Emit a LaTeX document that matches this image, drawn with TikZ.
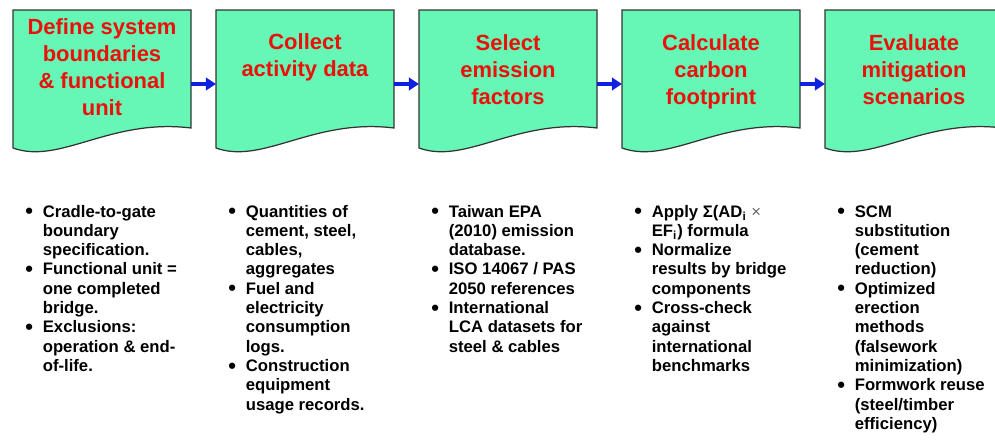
\documentclass[tikz,border=0pt]{standalone}
\usepackage{fontspec}
\setmainfont{Liberation Sans}
\usepackage{xcolor}
\usetikzlibrary{arrows.meta}
\definecolor{boxgreen}{RGB}{102,247,182}
\definecolor{titlered}{RGB}{235,16,10}
\definecolor{flowblue}{RGB}{16,32,224}
\newcommand\bul{\raisebox{-0.8pt}{\fontsize{12.5}{0}\selectfont\textbullet}}

\begin{document}
\begin{tikzpicture}[x=0.02cm,y=-0.02cm,
  docbox/.style={draw=black!80,fill=boxgreen,line width=0.7pt},
  head/.style={anchor=base,inner sep=0pt,text=titlered,font=\bfseries\fontsize{12.5}{15.4}\selectfont},
  notes/.style={anchor=base west,inner sep=0pt,font=\bfseries\fontsize{9.5}{11}\selectfont},
  flow/.style={draw=flowblue,line width=2.5pt,-{Triangle[length=5.7pt,width=7pt]}}]
\useasboundingbox (0,0) rectangle (995,443);
% the five document boxes
\foreach \i in {1,...,5}{
  \pgfmathsetmacro\xl{13+203*(\i-1)}
  \draw[docbox] (\xl,10) -- (\xl+178,10) -- (\xl+178,128)
    .. controls (\xl+97,118) and (\xl+47,165) .. (\xl,148) -- cycle;
  \coordinate (box\i-w) at (\xl,84);
  \coordinate (box\i-e) at (\xl+178,84);
}
\foreach \i in {1,...,4}{
  \pgfmathtruncatemacro\j{\i+1}
  \draw[flow] (box\i-e) -- (box\j-w);
}
% titles
\node[head] (h1) at (102,34) {\begin{tabular}[t]{@{}c@{}}Define system\\boundaries\\\& functional\\unit\end{tabular}};
\node[head] (h2) at (305,49) {\begin{tabular}[t]{@{}c@{}}Collect\\activity data\end{tabular}};
\node[head] (h3) at (508,50) {\begin{tabular}[t]{@{}c@{}}Select\\emission\\factors\end{tabular}};
\node[head] (h4) at (711,50) {\begin{tabular}[t]{@{}c@{}}Calculate\\carbon\\footprint\end{tabular}};
\node[head] (h5) at (914,50) {\begin{tabular}[t]{@{}c@{}}Evaluate\\mitigation\\scenarios\end{tabular}};
% bullet lists
\node[notes] (n1) at (25,217) {\begin{tabular}[t]{@{}p{0.35cm}@{}l@{}}
\bul & Cradle-to-gate\\ & boundary\\ & specification.\\
\bul & Functional unit =\\ & one completed\\ & bridge.\\
\bul & Exclusions:\\ & operation \& end-\\ & of-life.\end{tabular}};
\node[notes] (n2) at (228,217) {\begin{tabular}[t]{@{}p{0.35cm}@{}l@{}}
\bul & Quantities of\\ & cement, steel,\\ & cables,\\ & aggregates\\
\bul & Fuel and\\ & electricity\\ & consumption\\ & logs.\\
\bul & Construction\\ & equipment\\ & usage records.\end{tabular}};
\node[notes] (n3) at (431,217) {\begin{tabular}[t]{@{}p{0.35cm}@{}l@{}}
\bul & Taiwan EPA\\ & (2010) emission\\ & database.\\
\bul & ISO 14067 / PAS\\ & 2050 references\\
\bul & International\\ & LCA datasets for\\ & steel \& cables\end{tabular}};
\node[notes] (n4) at (634,217) {\begin{tabular}[t]{@{}p{0.35cm}@{}l@{}}
\bul & Apply Σ(AD\textsubscript{i} {\mdseries\color{black!60}×}\\ & EF\textsubscript{i}) formula\\
\bul & Normalize\\ & results by bridge\\ & components\\
\bul & Cross-check\\ & against\\ & international\\ & benchmarks\end{tabular}};
\node[notes] (n5) at (837,217) {\begin{tabular}[t]{@{}p{0.35cm}@{}l@{}}
\bul & SCM\\ & substitution\\ & (cement\\ & reduction)\\
\bul & Optimized\\ & erection\\ & methods\\ & (falsework\\ & minimization)\\
\bul & Formwork reuse\\ & (steel/timber\\ & efficiency)\end{tabular}};
\end{tikzpicture}
\end{document}
